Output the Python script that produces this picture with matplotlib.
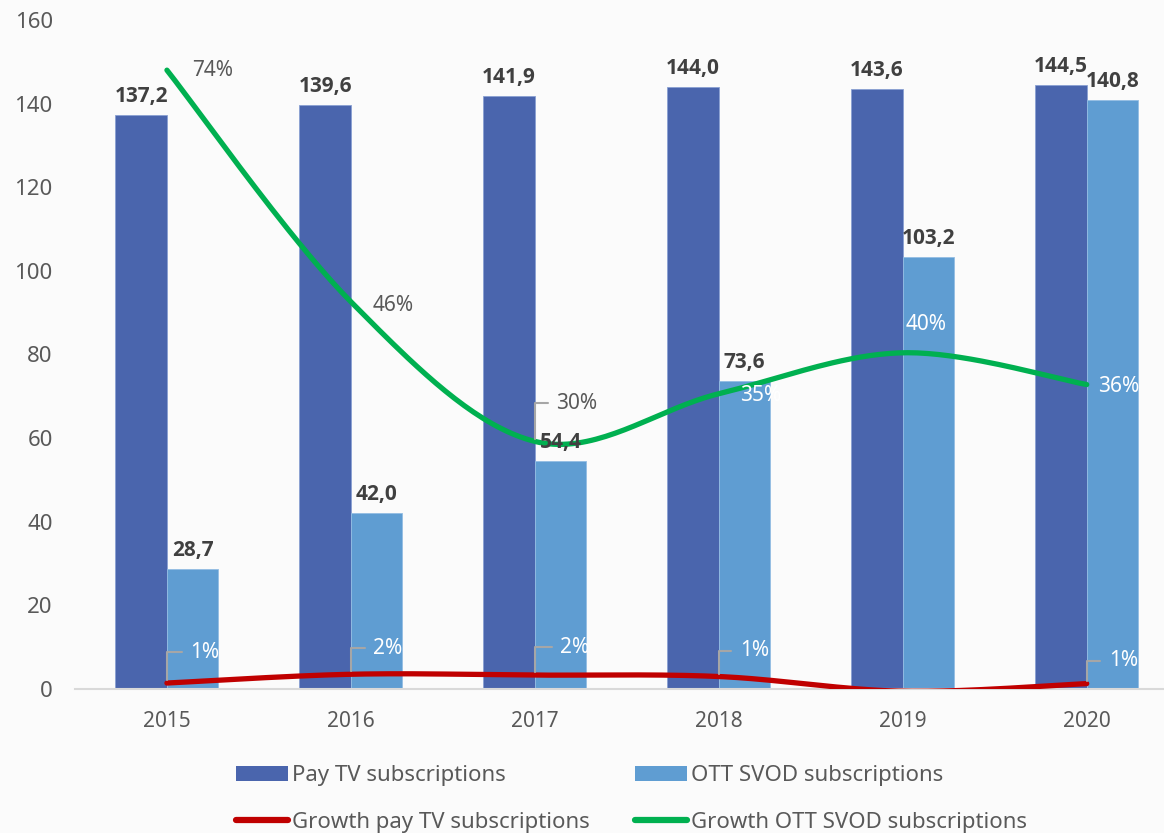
import matplotlib.pyplot as plt
from matplotlib.lines import Line2D
from matplotlib.patches import Patch
import numpy as np

# data
years = ['2015', '2016', '2017', '2018', '2019', '2020']
pay_tv = [137.2, 139.6, 141.9, 144.0, 143.6, 144.5]
ott_svod = [28.7, 42.0, 54.4, 73.6, 103.2, 140.8]
growth_pay = [0.7, 1.75, 1.65, 1.48, -0.28, 0.63]      # %
growth_ott = [74.0, 46.3, 29.6, 35.3, 40.2, 36.4]      # %

plt.rcParams['font.family'] = ['Noto Sans', 'DejaVu Sans']

c_pay = '#4a65ad'
c_ott = '#5f9dd2'
c_red = '#c00000'
c_green = '#00b050'
c_text = '#595959'
c_bold = '#404040'

fig = plt.figure(figsize=(11.64, 8.33), dpi=100, facecolor='#fbfbfb')
ax = fig.add_axes([0.0644, 0.173, 0.9356, 0.803])
ax.set_facecolor('#fbfbfb')

x = np.arange(len(years))
w = 0.28
ax.bar(x - w / 2, pay_tv, w, color=c_pay, edgecolor='#8aa0d2', linewidth=0.6)
ax.bar(x + w / 2, ott_svod, w, color=c_ott, edgecolor='#93bde3', linewidth=0.6)

ax.set_xlim(-0.5, 5.42)
ax.set_ylim(0, 160)
ax.set_yticks(range(0, 161, 20))
ax.set_xticks(x)
ax.set_xticklabels(years)
ax.tick_params(axis='y', length=0, pad=16, labelsize=16, labelcolor=c_text)
ax.tick_params(axis='x', length=0, pad=16, labelsize=15, labelcolor=c_text)
for s in ['top', 'right', 'left']:
    ax.spines[s].set_visible(False)
ax.spines['bottom'].set_color('#d9d9d9')
ax.spines['bottom'].set_linewidth(1.5)

# secondary axis for growth rates (hidden)
ax2 = ax.twinx()
ax2.set_ylim(0, 80)
ax2.axis('off')


def smooth(xs, ys, axis, n=40):
    # excel-like smoothed line: catmull-rom bezier in screen space
    pts = axis.transData.transform(np.column_stack([xs, ys]))
    out = []
    for i in range(len(pts) - 1):
        p0 = pts[i - 1] if i > 0 else pts[i]
        p1 = pts[i]
        p2 = pts[i + 1]
        p3 = pts[i + 2] if i + 2 < len(pts) else pts[i + 1]
        c1 = p1 + (p2 - p0) / 6
        c2 = p2 - (p3 - p1) / 6
        t = np.linspace(0, 1, n)[:, None]
        seg = (1 - t) ** 3 * p1 + 3 * (1 - t) ** 2 * t * c1 + 3 * (1 - t) * t ** 2 * c2 + t ** 3 * p2
        out.append(seg if i == 0 else seg[1:])
    out = axis.transData.inverted().transform(np.vstack(out))
    return out[:, 0], out[:, 1]


sx, sy = smooth(x, growth_pay, ax2)
ax2.plot(sx, sy, color=c_red, lw=3.8, solid_capstyle='round')
sx, sy = smooth(x, growth_ott, ax2)
ax2.plot(sx, sy, color=c_green, lw=3.8, solid_capstyle='round')

# bar value labels (drawn on ax2 so they sit above the lines)
bold_font = ['Open Sans', 'DejaVu Sans']
for xi, v in zip(x, pay_tv):
    ax2.annotate(f'{v:.1f}'.replace('.', ','), xy=(xi - w / 2, v), xycoords=ax.transData,
                 xytext=(0, 8), textcoords='offset pixels', ha='center', va='bottom',
                 fontsize=15, fontweight='bold', family=bold_font, color=c_bold)
for xi, v in zip(x, ott_svod):
    ax2.annotate(f'{v:.1f}'.replace('.', ','), xy=(xi + w / 2, v), xycoords=ax.transData,
                 xytext=(0, 8), textcoords='offset pixels', ha='center', va='bottom',
                 fontsize=15, fontweight='bold', family=bold_font, color=c_bold)

# growth labels
ott_offsets = [(25, 0), (22, -4), (21, 38), (21, -2), (3, 28), (11, -2)]
ott_colors = [c_text, c_text, c_text, 'white', 'white', 'white']
ott_leader = [False, False, True, False, False, False]
for xi, v, off, col, lead in zip(x, growth_ott, ott_offsets, ott_colors, ott_leader):
    props = dict(arrowstyle='-', color='#a6a6a6', lw=1.5,
                 connectionstyle='angle,angleA=0,angleB=90,rad=0', shrinkA=4, shrinkB=2) if lead else None
    ax2.annotate(f'{round(v)}%', xy=(xi, v), xytext=off, textcoords='offset pixels',
                 ha='left', va='center', fontsize=15, color=col, arrowprops=props)

pay_offsets = [(23, 31), (22, 26), (25, 28), (21, 26), None, (22, 23)]
for xi, v, off in zip(x, growth_pay, pay_offsets):
    if off is None:
        continue
    ax2.annotate(f'{round(v)}%', xy=(xi, v), xytext=off, textcoords='offset pixels',
                 ha='left', va='center', fontsize=15, color='white',
                 arrowprops=dict(arrowstyle='-', color='#a6a6a6', lw=1.5,
                                 connectionstyle='angle,angleA=0,angleB=90,rad=0',
                                 shrinkA=4, shrinkB=2))

handles = [
    Patch(facecolor=c_pay, label='Pay TV subscriptions'),
    Line2D([], [], color=c_red, lw=4.5, solid_capstyle='round', label='Growth pay TV subscriptions'),
    Patch(facecolor=c_ott, label='OTT SVOD subscriptions'),
    Line2D([], [], color=c_green, lw=4.5, solid_capstyle='round', label='Growth OTT SVOD subscriptions'),
]
fig.legend(handles=handles, ncol=2, loc='center', bbox_to_anchor=(0.5425, 0.0405),
           frameon=False, fontsize=16, labelcolor=c_text, handlelength=2.35,
           handleheight=0.7, handletextpad=0.2, columnspacing=2.0, labelspacing=1.15)

fig.savefig('out.png', dpi=100, facecolor=fig.get_facecolor())
